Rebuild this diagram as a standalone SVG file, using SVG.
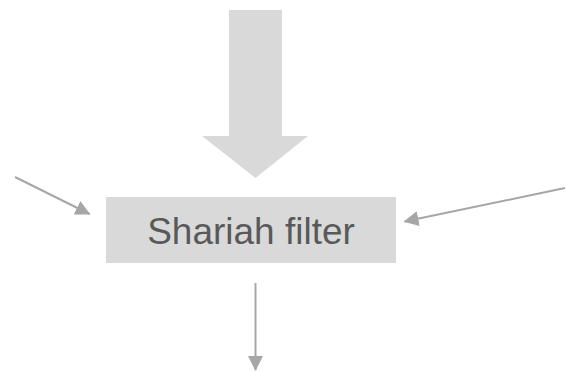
<svg xmlns="http://www.w3.org/2000/svg" width="566" height="371" viewBox="0 0 566 371">
<style>
.conn{stroke:#a6a6a6;stroke-width:2;fill:none}
.box{fill:#d9d9d9}
.lbl{font-family:"Liberation Sans",Arial,sans-serif;font-size:37px;fill:#595959}
</style>
<defs>
<marker id="ah" markerUnits="userSpaceOnUse" markerWidth="16" markerHeight="16" refX="14" refY="7.5" orient="auto" viewBox="0 0 16 16">
<path d="M0,0 L15,7.5 L0,15 z" fill="#a6a6a6"/>
</marker>
</defs>
<rect width="566" height="371" fill="#ffffff"/>
<g id="big-arrow">
<polygon class="box" points="229,10 282,10 282,136 308,136 255.5,178 202,136 229,136"/>
</g>
<g id="shariah-filter">
<rect class="box" x="106" y="197" width="290" height="66"/>
<text class="lbl" x="251" y="244" text-anchor="middle">Shariah filter</text>
</g>
<g id="connectors">
<line class="conn" x1="15" y1="177" x2="89.5" y2="214" marker-end="url(#ah)"/>
<line class="conn" x1="565" y1="188" x2="404.5" y2="221.5" marker-end="url(#ah)"/>
<line class="conn" x1="255.5" y1="283" x2="255.5" y2="370" marker-end="url(#ah)"/>
</g>
</svg>
